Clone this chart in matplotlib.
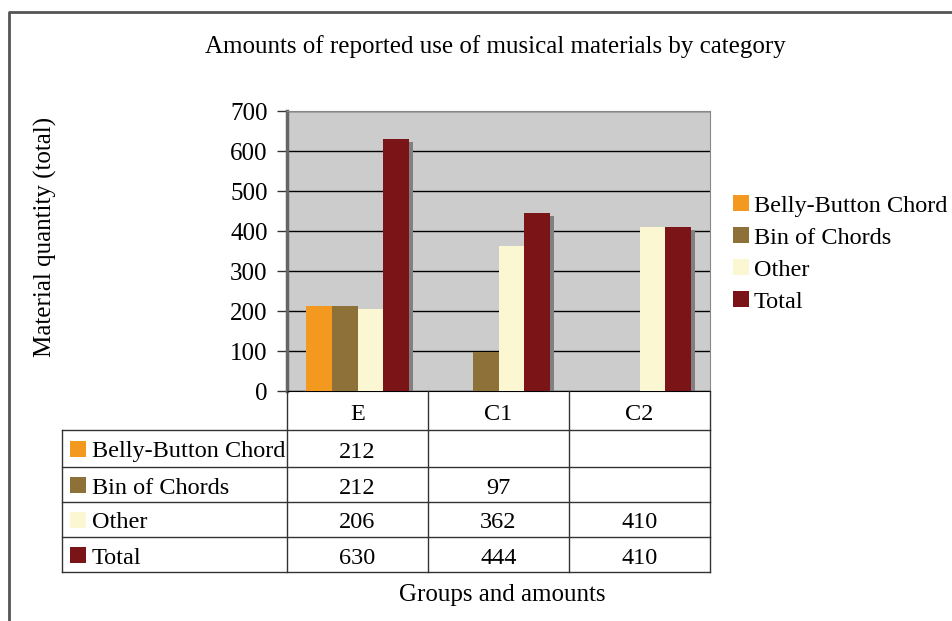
import matplotlib
matplotlib.use("Agg")
import matplotlib.pyplot as plt
import matplotlib.transforms as mtransforms
from matplotlib.patches import Rectangle
import numpy as np

categories = ['E', 'C1', 'C2']
series_names = ['Belly-Button Chord', 'Bin of Chords', 'Other', 'Total']
belly_button = [212, np.nan, np.nan]
bin_of_chords = [212, 97, np.nan]
other = [206, 362, 410]
total = [630, 444, 410]
series_values = [belly_button, bin_of_chords, other, total]
colors = ['#F4991F', '#8D7139', '#FAF7D2', '#7B1416']

plt.rcParams['font.family'] = ['Liberation Serif', 'DejaVu Serif']
FS = 18     # titles, labels, ticks
FT = 17.5   # table and legend
W, H = 952, 621

fig = plt.figure(figsize=(W / 100, H / 100), dpi=100)

# overlay in pixel coordinates for frame, table and legend
ov = fig.add_axes([0, 0, 1, 1], zorder=5)
ov.set_xlim(0, W)
ov.set_ylim(H, 0)
ov.axis('off')
ov.patch.set_alpha(0)

# main bar axes
left, right, top, bottom = 287, 710, 111, 391
ax = fig.add_axes([left / W, 1 - bottom / H, (right - left) / W, (bottom - top) / H])
ax.set_facecolor('#CCCCCC')

x = np.arange(len(categories))
bw = 0.184
offsets = (np.arange(len(series_names)) - 1.5) * bw
shadow = mtransforms.offset_copy(ax.transData, fig=fig, x=4, y=-3, units='dots')
for i, vals in enumerate(series_values):
    ax.bar(x + offsets[i], vals, bw, color='#808080', transform=shadow, zorder=2, linewidth=0)
for i, vals in enumerate(series_values):
    ax.bar(x + offsets[i], vals, bw, color=colors[i], zorder=3, linewidth=0, label=series_names[i])

ax.set_xlim(-0.5, len(categories) - 0.5)
ax.set_ylim(0, 700)
ax.set_yticks(np.arange(0, 701, 100))
ax.yaxis.grid(True, color='black', linewidth=1)
ax.set_axisbelow(True)
ax.set_xticks([])
ax.tick_params(axis='y', labelsize=FS, length=7, width=1, color='#333333', pad=7)
for s in ['top', 'right']:
    ax.spines[s].set_color('#888888')
ax.spines['left'].set_color('#666666')
ax.spines['left'].set_linewidth(2.5)
ax.spines['bottom'].set_color('black')

# title and axis labels
fig.text(495 / W, 1 - 44 / H, 'Amounts of reported use of musical materials by category',
         ha='center', va='center_baseline', fontsize=FS)
fig.text(45 / W, 1 - 237 / H, 'Material quantity (total)', rotation=90,
         ha='center', va='center', fontsize=FS)
fig.text(502 / W, 1 - 593 / H, 'Groups and amounts', ha='center', va='center_baseline',
         fontsize=FS)

# outer frame
ov.plot([8.5, 8.5, W + 5], [H + 5, 12, 12], color='#555555', lw=2, clip_on=False)

# data table
col_edges = [287, 428, 569, 710]
row_edges = [430, 467, 502, 537, 572]
lc = '#333333'
for xe in col_edges:
    ov.plot([xe, xe], [391, row_edges[-1]], color=lc, lw=1)
ov.plot([62, 62], [row_edges[0], row_edges[-1]], color=lc, lw=1)
for ye in row_edges:
    ov.plot([62, 710], [ye, ye], color=lc, lw=1)
for j, cat in enumerate(categories):
    cx = (col_edges[j] + col_edges[j + 1]) / 2
    ov.text(cx, 412, cat, ha='center', va='center_baseline', fontsize=FT)
for i, name in enumerate(series_names):
    cy = (row_edges[i] + row_edges[i + 1]) / 2
    ov.add_patch(Rectangle((70, cy - 8), 16, 16, color=colors[i], lw=0))
    ov.text(92, cy + 1, name, ha='left', va='center_baseline', fontsize=FT)
    for j, v in enumerate(series_values[i]):
        if not np.isnan(v):
            cx = (col_edges[j] + col_edges[j + 1]) / 2
            ov.text(cx, cy + 1, '%d' % v, ha='center', va='center_baseline', fontsize=FT)

# legend
for i, name in enumerate(series_names):
    cy = 203 + 32 * i
    ov.add_patch(Rectangle((733, cy - 8), 16, 16, color=colors[i], lw=0))
    ov.text(754, cy + 1, name, ha='left', va='center_baseline', fontsize=FT)

fig.savefig('out.png', dpi=100)
